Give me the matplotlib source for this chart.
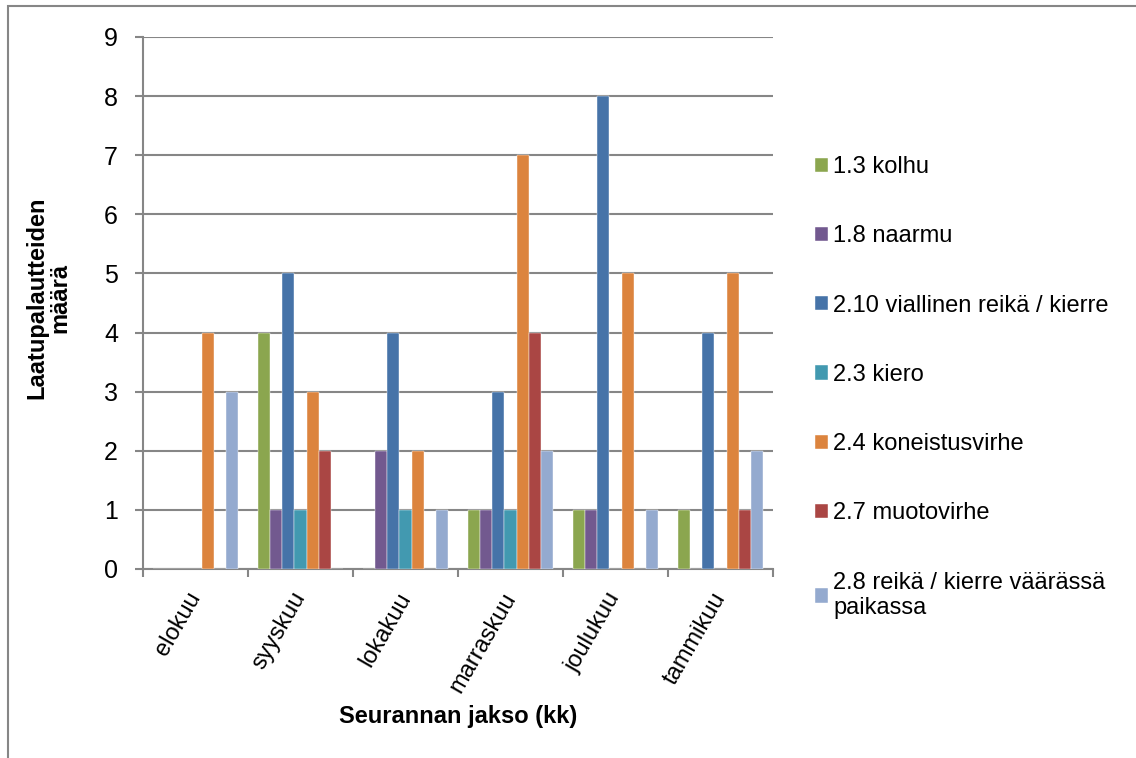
import numpy as np
import matplotlib
matplotlib.use('Agg')
from matplotlib import pyplot as plt
import matplotlib.patches as patches

#================================= DATA =================================
MONTHS = ['elokuu', 'syyskuu', 'lokakuu', 'marraskuu', 'joulukuu', 'tammikuu']
SERIES = ['1.3 kolhu', '1.8 naarmu', '2.10 viallinen reikä / kierre', '2.3 kiero',
          '2.4 koneistusvirhe', '2.7 muotovirhe', '2.8 reikä / kierre väärässä\npaikassa']
KOLHU = [0, 4, 0, 1, 1, 1]
NAARMU = [0, 1, 2, 1, 1, 0]
VIALLINEN = [0, 5, 4, 3, 8, 4]
KIERO = [0, 1, 1, 1, 0, 0]
KONEISTUS = [4, 3, 2, 7, 5, 5]
MUOTO = [0, 2, 0, 4, 0, 1]
VAARASSA = [3, 0, 1, 2, 1, 2]
COLORS = ['#8BA64F', '#72598F', '#4673A8', '#4299B0', '#DC843E', '#AA4644', '#94AACF']

values = [KOLHU, NAARMU, VIALLINEN, KIERO, KONEISTUS, MUOTO, VAARASSA]

#================================ FIGURE ================================
plt.rcParams['font.family'] = ['Liberation Sans', 'DejaVu Sans']
GRID = '#868686'
FS = 17

fig = plt.figure(figsize=(11.36, 7.58), dpi=100)
ax = fig.add_axes([143 / 1136, 1 - 569 / 758, 630 / 1136, 532 / 758])

x = np.arange(len(MONTHS))
bw = 0.117
for i, (name, vals, col) in enumerate(zip(SERIES, values, COLORS)):
  ax.bar(x + (i - 3) * bw, vals, width=bw, color=col, label=name, zorder=3,
         edgecolor='white', linewidth=0.3)

ax.set_xlim(-0.5, len(MONTHS) - 0.5)
ax.set_ylim(0, 9)
ax.set_yticks(range(10))
ax.yaxis.grid(True, color=GRID, linewidth=1.5, zorder=0)
ax.tick_params(axis='y', labelsize=18, length=6, width=1.5, color=GRID, pad=12)

# x ticks sit on category boundaries, labels sit under the centres
ax.set_xticks(np.arange(len(MONTHS) + 1) - 0.5)
ax.set_xticklabels([])
ax.tick_params(axis='x', which='major', length=6, width=1.5, color=GRID)
ax.set_xticks(x, minor=True)
ax.set_xticklabels(MONTHS, minor=True, rotation=60, ha='right', va='center',
                   rotation_mode='anchor', fontsize=FS)
ax.tick_params(axis='x', which='minor', length=0, pad=18)

for s in ['top', 'right']:
  ax.spines[s].set_visible(False)
for s in ['left', 'bottom']:
  ax.spines[s].set_color(GRID)
  ax.spines[s].set_linewidth(1.5)

fig.text(37 / 1136, 1 - 298 / 758, 'Laatupalautteiden', rotation=90, fontsize=FS,
         fontweight='bold', ha='center', va='center')
fig.text(60 / 1136, 1 - 298 / 758, 'määrä', rotation=90, fontsize=FS,
         fontweight='bold', ha='center', va='center')
fig.text(458 / 1136, 1 - 716 / 758, 'Seurannan jakso (kk)', fontsize=FS,
         fontweight='bold', ha='center', va='center')

leg = fig.legend(loc='upper left', bbox_to_anchor=(794 / 1136, 1 - 135 / 758),
                 frameon=False, fontsize=FS, handlelength=0.55, handleheight=0.55,
                 handletextpad=0.2, labelspacing=2.0)

# chart area border
fig.patches.append(patches.Rectangle((8 / 1136, -0.1), 1.2, 1 - 6 / 758 + 0.1,
                                     transform=fig.transFigure, fill=False,
                                     edgecolor=GRID, linewidth=1.5))

plt.savefig('out.png', dpi=100)
